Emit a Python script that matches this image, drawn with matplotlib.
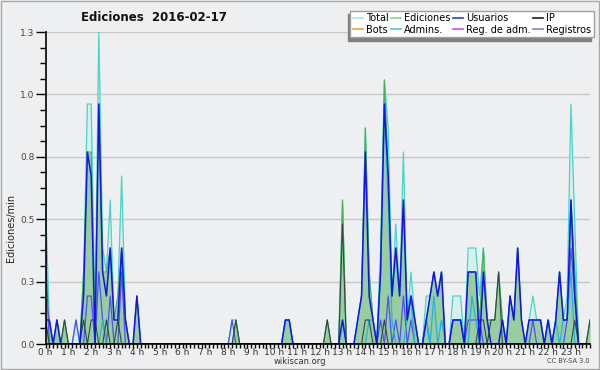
import matplotlib
matplotlib.use("Agg")
import matplotlib.pyplot as plt
from matplotlib.lines import Line2D
from matplotlib.ticker import MultipleLocator, FixedLocator

# ==========================================
# DATA: ediciones por minuto, pasos de 10 min (144 puntos)
# ==========================================
usuarios = [
    0.1, 0.1, 0, 0.1, 0, 0,          0, 0, 0, 0, 0.2, 0.8,
    0.7, 0, 1.0, 0.3, 0.2, 0.4,      0.1, 0.1, 0.4, 0.1, 0, 0,
    0.2, 0, 0, 0, 0, 0,              0, 0, 0, 0, 0, 0,
    0, 0, 0, 0, 0, 0,                0, 0, 0, 0, 0, 0,
    0, 0, 0, 0, 0, 0,                0, 0, 0, 0, 0, 0,
    0, 0, 0, 0.1, 0.1, 0,            0, 0, 0, 0, 0, 0,
    0, 0, 0, 0, 0, 0,                0.1, 0, 0, 0, 0.1, 0.2,
    0.8, 0.2, 0.1, 0, 0.3, 1.0,      0.7, 0.2, 0.4, 0.2, 0.6, 0.1,
    0.2, 0.1, 0, 0, 0.1, 0.2,        0.3, 0.2, 0.3, 0, 0, 0.1,
    0.1, 0.1, 0, 0.3, 0.3, 0.3,      0, 0.3, 0.1, 0, 0, 0,
    0.1, 0, 0.2, 0.1, 0.4, 0.1,      0, 0.1, 0.1, 0.1, 0.1, 0,
    0.1, 0, 0.1, 0.3, 0.1, 0.1,      0.6, 0.2, 0, 0, 0, 0,
]
ip = [
    0.1, 0, 0, 0, 0, 0.1,            0, 0, 0, 0, 0.1, 0,
    0.1, 0.1, 0, 0, 0.1, 0,          0, 0.1, 0, 0, 0, 0,
    0, 0, 0, 0, 0, 0,                0, 0, 0, 0, 0, 0,
    0, 0, 0, 0, 0, 0,                0, 0, 0, 0, 0, 0,
    0, 0, 0.1, 0, 0, 0,              0, 0, 0, 0, 0, 0,
    0, 0, 0, 0, 0, 0,                0, 0, 0, 0, 0, 0,
    0, 0, 0.1, 0, 0, 0,              0.5, 0, 0, 0, 0, 0,
    0.1, 0.1, 0, 0, 0, 0.1,          0, 0, 0, 0, 0, 0,
    0, 0, 0, 0, 0, 0,                0, 0, 0, 0, 0, 0,
    0, 0, 0, 0, 0, 0,                0.1, 0.1, 0, 0.1, 0.1, 0.3,
    0, 0, 0, 0, 0, 0,                0, 0, 0, 0, 0, 0,
    0, 0, 0, 0, 0, 0,                0, 0.1, 0, 0, 0, 0.1,
]
ediciones = [
    0.2, 0.1, 0, 0.1, 0, 0.1,        0, 0, 0, 0, 0.3, 0.8,
    0.8, 0.1, 1.0, 0.3, 0.3, 0.4,    0.1, 0.2, 0.4, 0.1, 0, 0,
    0.2, 0, 0, 0, 0, 0,              0, 0, 0, 0, 0, 0,
    0, 0, 0, 0, 0, 0,                0, 0, 0, 0, 0, 0,
    0, 0, 0.1, 0, 0, 0,              0, 0, 0, 0, 0, 0,
    0, 0, 0, 0.1, 0.1, 0,            0, 0, 0, 0, 0, 0,
    0, 0, 0.1, 0, 0, 0,              0.6, 0, 0, 0, 0.1, 0.2,
    0.9, 0.3, 0.1, 0, 0.3, 1.1,      0.7, 0.2, 0.4, 0.2, 0.6, 0.1,
    0.2, 0.1, 0, 0, 0.1, 0.2,        0.3, 0.2, 0.3, 0, 0, 0.1,
    0.1, 0.1, 0, 0.3, 0.3, 0.3,      0.1, 0.4, 0.1, 0.1, 0.1, 0.3,
    0.1, 0, 0.2, 0.1, 0.4, 0.1,      0, 0.1, 0.1, 0.1, 0.1, 0,
    0.1, 0, 0.1, 0.3, 0.1, 0.1,      0.6, 0.3, 0, 0, 0, 0.1,
]
registros = [
    0.4, 0, 0, 0, 0, 0,              0, 0, 0.1, 0, 0, 0.2,
    0.2, 0, 0.3, 0.1, 0, 0.2,        0, 0, 0.3, 0, 0, 0,
    0, 0, 0, 0, 0, 0,                0, 0, 0, 0, 0, 0,
    0, 0, 0, 0, 0, 0,                0, 0, 0, 0, 0, 0,
    0, 0.1, 0, 0, 0, 0,              0, 0, 0, 0, 0, 0,
    0, 0, 0, 0, 0, 0,                0, 0, 0, 0, 0, 0,
    0, 0, 0, 0, 0, 0,                0, 0, 0, 0, 0, 0,
    0, 0, 0, 0, 0.1, 0,              0.2, 0, 0.1, 0, 0.2, 0,
    0.1, 0, 0, 0, 0.1, 0,            0, 0, 0, 0, 0, 0.1,
    0.1, 0.1, 0, 0.1, 0.1, 0.1,      0.1, 0, 0, 0, 0, 0,
    0, 0, 0, 0, 0, 0,                0, 0, 0.1, 0, 0, 0,
    0, 0, 0, 0, 0, 0.1,              0.4, 0.2, 0, 0, 0, 0,
]
total = [
    0.6, 0.1, 0, 0.1, 0, 0.1,        0, 0, 0.1, 0, 0.3, 1.0,
    1.0, 0.1, 1.3, 0.4, 0.3, 0.6,    0.1, 0.2, 0.7, 0.1, 0, 0,
    0.2, 0, 0, 0, 0, 0,              0, 0, 0, 0, 0, 0,
    0, 0, 0, 0, 0, 0,                0, 0, 0, 0, 0, 0,
    0, 0.1, 0.1, 0, 0, 0,            0, 0, 0, 0, 0, 0,
    0, 0, 0, 0.1, 0.1, 0,            0, 0, 0, 0, 0, 0,
    0, 0, 0.1, 0, 0, 0,              0.6, 0, 0, 0, 0.1, 0.2,
    0.9, 0.3, 0.1, 0, 0.4, 1.1,      0.9, 0.2, 0.5, 0.2, 0.8, 0.1,
    0.3, 0.1, 0, 0, 0.2, 0.2,        0.3, 0.2, 0.3, 0, 0, 0.2,
    0.2, 0.2, 0, 0.4, 0.4, 0.4,      0.2, 0.4, 0.1, 0.1, 0.1, 0.3,
    0.1, 0, 0.2, 0.1, 0.4, 0.1,      0, 0.1, 0.2, 0.1, 0.1, 0,
    0.1, 0, 0.1, 0.3, 0.1, 0.2,      1.0, 0.5, 0, 0, 0, 0.1,
]
admins = [
    0.1, 0, 0, 0, 0, 0,              0, 0, 0, 0, 0, 0,
    0, 0, 0, 0.1, 0, 0,              0, 0, 0, 0, 0, 0,
    0, 0, 0, 0, 0, 0,                0, 0, 0, 0, 0, 0,
    0, 0, 0, 0, 0, 0,                0, 0, 0, 0, 0, 0,
    0, 0, 0, 0, 0, 0,                0, 0, 0, 0, 0, 0,
    0, 0, 0, 0.1, 0.1, 0,            0, 0, 0, 0, 0, 0,
    0, 0, 0, 0, 0, 0,                0.1, 0, 0, 0, 0, 0,
    0, 0.1, 0.1, 0, 0.3, 1.0,        0.6, 0.1, 0, 0, 0, 0.1,
    0.2, 0, 0, 0, 0.1, 0,            0.2, 0, 0.1, 0, 0, 0,
    0, 0, 0, 0, 0.2, 0.1,            0, 0, 0, 0, 0, 0,
    0, 0, 0, 0, 0, 0,                0, 0, 0, 0, 0, 0,
    0, 0, 0.1, 0, 0.1, 0.1,          0.3, 0, 0, 0, 0, 0,
]

hour_labels = [f"{h} h" for h in range(24)]
y_labels = ["0.0", "0.3", "0.5", "0.8", "1.0", "1.3"]

legend_names = ["Total", "Bots", "Ediciones", "Admins.",
                "Usuarios", "Reg. de adm.", "IP", "Registros"]
legend_colors = ["#a8e8e0", "#f0a040", "#8cd08c", "#50c8d8",
                 "#3a3ad8", "#d050e0", "#202020", "#8080f0"]

# ==========================================
# PLOT
# ==========================================
BG = "#eeeff1"
fig = plt.figure(figsize=(6.0, 3.7), dpi=100, facecolor=BG)
ax = fig.add_axes([45.5 / 600, 1 - 344 / 370, (590 - 45.5) / 600, (344 - 32) / 370])
ax.set_facecolor(BG)

x = list(range(len(total)))

ax.fill_between(x, total, color="#d6f1ec", lw=0, zorder=1)
ax.fill_between(x, ediciones, color="#98cd9f", lw=0, zorder=2)
ax.plot(x, total, color="#48d4c8", lw=0.9, zorder=3)
ax.plot(x, ediciones, color="#48b058", lw=0.8, zorder=4)
ax.plot(x, registros, color="#5050f5", lw=0.9, zorder=5)
ax.plot(x, admins, color="#22b4de", lw=0.9, zorder=6)
ax.plot(x, ip, color="#34463c", lw=0.8, zorder=7)
ax.plot(x, usuarios, color="#1414e8", lw=1.1, zorder=8)

ax.set_xlim(0, len(total) - 1)
ax.set_ylim(0, 1.3)

ax.xaxis.set_major_locator(FixedLocator(range(0, 144, 6)))
ax.set_xticklabels(hour_labels)
ax.xaxis.set_minor_locator(MultipleLocator(1))
ax.yaxis.set_major_locator(FixedLocator([0, 0.26, 0.52, 0.78, 1.04, 1.3]))
ax.set_yticklabels(y_labels)
ax.yaxis.set_minor_locator(MultipleLocator(0.065))

ax.tick_params(axis="x", which="major", length=3, width=1, pad=0,
               labelsize=6.5, labelcolor="#333333")
ax.tick_params(axis="x", which="minor", length=3, width=1)
ax.tick_params(axis="y", which="major", length=7, width=1, pad=1,
               labelsize=6.5, labelcolor="#444444")
ax.tick_params(axis="y", which="minor", length=4, width=1)

ax.grid(True, axis="y", which="major", color="#c8c8c8", lw=1, zorder=0)
ax.set_axisbelow(True)
for side in ["top", "right"]:
    ax.spines[side].set_visible(False)
for side in ["left", "bottom"]:
    ax.spines[side].set_linewidth(1.2)
    ax.spines[side].set_zorder(10)

fig.text(0.257, 0.953, "Ediciones  2016-02-17", ha="center", va="center",
         fontsize=8.5, fontweight="bold", color="#111111")
fig.text(0.018, 0.385, "Ediciones/min", rotation=90, ha="center", va="center",
         fontsize=7, color="#222222")
fig.text(0.5, 0.022, "wikiscan.org", ha="center", va="center",
         fontsize=6, color="#333333")
fig.text(0.983, 0.024, "CC BY-SA 3.0", ha="right", va="center",
         fontsize=4.8, color="#444444")

handles = [Line2D([0], [0], color=c, lw=1.2) for c in legend_colors]
leg = fig.legend(handles, legend_names, ncol=4, loc="upper right",
                 bbox_to_anchor=(594 / 600, 1 - 11 / 370), fontsize=7,
                 handlelength=1.0, handletextpad=0.35, columnspacing=0.25,
                 borderpad=0.25, labelspacing=0.12, fancybox=False,
                 borderaxespad=0,
                 shadow={"ox": -2, "oy": -2.5, "color": "#808080", "alpha": 1})
leg.get_frame().set_edgecolor("#a0a0a0")
leg.get_frame().set_linewidth(1)
leg.get_frame().set_facecolor("white")

# marco exterior
fig.patches.append(plt.Rectangle((0.001, 0.002), 0.997, 0.996, transform=fig.transFigure,
                                 fill=False, edgecolor="#a8a8a8", lw=1))

fig.savefig("out.png", dpi=100, facecolor=BG)
